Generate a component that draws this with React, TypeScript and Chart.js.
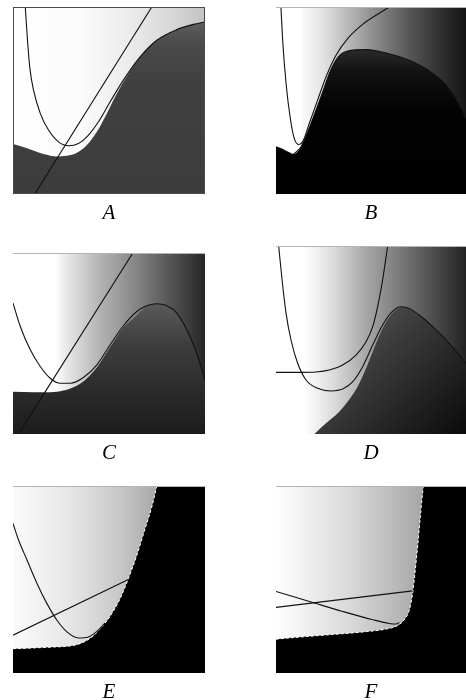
import React, { useEffect, useRef } from "react";
import { Chart, registerables } from "chart.js";

Chart.register(...registerables);

// ---------- Data (each panel in a 0..100 x 0..100 frame) ----------
const panelLabels = ["A", "B", "C", "D", "E", "F"];

// Panel A
const aCurveX = [6.4, 7.3, 8.7, 10.7, 14.2, 18.5, 23.7, 28.9, 34.1, 39.3, 44.5, 50.6, 57.5, 66.2, 74.9, 85.3, 93.9, 100];
const aCurveY = [100, 85.8, 68.0, 55.5, 43.1, 34.2, 27.9, 25.8, 27.0, 31.5, 38.6, 49.3, 60.9, 73.3, 82.2, 87.9, 90.7, 92.0];
const aLineX = [11.3, 72.3];
const aLineY = [0, 100];
const aDarkX = [0, 7.3, 15.9, 22.9, 28.1, 33.3, 38.5, 43.7, 48.9, 54.1, 59.3, 66.2, 74.9, 85.3, 93.9, 100];
const aDarkY = [26.7, 24.4, 21.4, 20.1, 20.5, 22.1, 26.2, 33.3, 43.1, 53.7, 63.0, 73.3, 82.2, 87.9, 90.7, 92.0];

// Panel B
const bCurveX = [2.6, 3.5, 5.3, 7.4, 9.6, 11.9, 14.4, 17.5, 21.9, 26.3, 31.6, 37.7, 45.6, 52.6, 59.6];
const bCurveY = [100, 82.2, 59.1, 41.3, 29.7, 26.5, 28.8, 37.7, 50.2, 62.6, 74.2, 83.1, 90.7, 95.6, 100];
const bHumpX = [9.3, 13.2, 16.7, 20.7, 24.6, 28.4, 32.5, 37.7, 47.4, 57.9, 70.2, 80.7, 89.5, 96.5, 100];
const bHumpY = [21.4, 25.3, 33.3, 43.9, 54.6, 65.3, 73.0, 76.5, 77.2, 75.4, 71.5, 65.8, 58.2, 47.5, 40.4];
const bDarkX = [0, 3.5, 6.7, 9.3, 13.2, 16.7, 20.7, 24.6, 28.4, 32.5, 37.7, 47.4, 57.9, 70.2, 80.7, 89.5, 96.5, 100];
const bDarkY = [25.6, 24.2, 22.4, 21.4, 25.3, 33.3, 43.9, 54.6, 65.3, 73.0, 76.5, 77.2, 75.4, 71.5, 65.8, 58.2, 47.5, 40.4];

// Panel C
const cCurveX = [0, 3.8, 9.0, 14.2, 19.4, 24.6, 29.8, 36.7, 43.7, 50.6, 57.5, 64.5, 69.7, 74.9, 80.1, 85.3, 90.5, 95.7, 100];
const cCurveY = [72.3, 59.4, 46.5, 37.3, 30.8, 28.0, 28.0, 31.2, 38.2, 49.3, 59.8, 67.7, 70.8, 72.0, 70.8, 66.8, 57.6, 44.6, 29.9];
const cLineX = [2.9, 62.4];
const cLineY = [0, 100];
const cDarkX = [0, 10.7, 19.4, 26.3, 31.5, 37.6, 43.7, 50.6, 57.5, 62.7, 69.7, 74.9, 80.1, 85.3, 90.5, 95.7, 100];
const cDarkY = [23.4, 23.1, 23.1, 24.0, 25.8, 29.9, 36.7, 48.0, 59.0, 64.0, 70.5, 71.8, 70.6, 66.6, 57.4, 44.4, 29.7];

// Panel D
const dCurveX = [1.4, 3.2, 5.3, 7.9, 11.4, 15.8, 21.9, 28.9, 35.1, 40.4, 45.6, 50.9, 56.1, 61.4, 65.8, 70.2, 75.4, 82.5, 91.2, 100];
const dCurveY = [100, 81.9, 64.2, 50.0, 37.6, 28.7, 24.3, 22.9, 23.9, 27.8, 35.8, 47.3, 58.0, 65.4, 67.7, 66.8, 63.3, 57.1, 48.2, 37.6];
const dFlatX = [0, 12.3, 21.1, 28.1, 35.1, 42.1, 47.4, 50.9, 53.5, 56.1, 58.8];
const dFlatY = [32.8, 32.8, 33.0, 34.0, 36.7, 42.0, 49.1, 57.1, 67.7, 81.9, 100];
const dDarkX = [20.2, 26.3, 33.3, 38.6, 43.0, 47.0, 50.9, 55.3, 59.6, 64.0, 66.7, 70.2, 75.4, 82.5, 91.2, 100];
const dDarkY = [0, 5.7, 11.9, 18.4, 25.2, 34.0, 43.8, 54.4, 62.1, 66.7, 67.4, 66.5, 63.1, 56.9, 48.0, 37.4];

// Panel E
const eEdgeX = [0, 10.7, 21.1, 29.8, 35.9, 41.1, 46.3, 51.5, 55.8, 60.1, 64.5, 68.8, 72.3, 74.9];
const eEdgeY = [13.0, 13.4, 13.9, 14.5, 16.1, 19.3, 24.6, 31.8, 39.8, 50.5, 63.0, 77.3, 88.9, 100];
const eCurveX = [0, 2.9, 7.3, 12.5, 17.7, 22.9, 28.1, 34.1, 39.3, 43.7, 48.0];
const eCurveY = [80.0, 71.1, 60.4, 47.9, 37.1, 28.2, 22.0, 18.75, 19.3, 22.3, 26.8];
const eLineX = [0, 60.1];
const eLineY = [20.2, 50.0];

// Panel F
const fEdgeX = [0, 12.3, 29.8, 47.4, 57.9, 64.0, 67.5, 70.2, 71.9, 73.3, 74.7, 76.1, 77.5];
const fEdgeY = [18.1, 19.2, 20.6, 22.1, 23.5, 25.4, 28.5, 33.8, 42.7, 55.2, 69.4, 85.4, 100];
const fCurveX = [0, 20.2, 35.1, 50.9, 59.6, 63.2, 64.9];
const fCurveY = [43.6, 37.4, 32.9, 28.5, 26.5, 26.2, 27.0];
const fLineX = [0, 71.9];
const fLineY = [35.1, 43.9];

// ---------- helpers ----------
const zip = (xs: number[], ys: number[]) => xs.map((x, i) => ({ x, y: ys[i] }));

type Stop = [number, string];

const curve = (xs: number[], ys: number[]) => ({
  data: zip(xs, ys),
  borderColor: "#111",
  borderWidth: 1.1,
  pointRadius: 0,
  fill: false,
  cubicInterpolationMode: "monotone",
  clip: 0,
});

const vGrad = (stops: Stop[], fallback: string) => (ctx: any) => {
  const ch = ctx.chart;
  const a = ch.chartArea;
  if (!a) return fallback;
  const g = ch.ctx.createLinearGradient(0, a.top, 0, a.bottom);
  stops.forEach(([p, c]) => g.addColorStop(p, c));
  return g;
};

const hGrad = (stops: Stop[], fallback: string) => (ctx: any) => {
  const ch = ctx.chart;
  const a = ch.chartArea;
  if (!a) return fallback;
  const g = ch.ctx.createLinearGradient(a.left, 0, a.right, 0);
  stops.forEach(([p, c]) => g.addColorStop(p, c));
  return g;
};

const dGrad = (stops: Stop[], fallback: string) => (ctx: any) => {
  const ch = ctx.chart;
  const a = ch.chartArea;
  if (!a) return fallback;
  const g = ch.ctx.createLinearGradient(a.left + a.width * 0.3, a.top + a.height * 0.3, a.right, a.bottom);
  stops.forEach(([p, c]) => g.addColorStop(p, c));
  return g;
};

const region = (xs: number[], ys: number[], fill: string, bg: any, dashed = false) => ({
  data: zip(xs, ys),
  borderColor: dashed ? "#ffffff" : "rgba(0,0,0,0)",
  borderWidth: dashed ? 1 : 0,
  borderDash: dashed ? [3, 2] : [],
  pointRadius: 0,
  fill,
  backgroundColor: bg,
  cubicInterpolationMode: "monotone",
  clip: 0,
});

type PanelDef = {
  label: string;
  left: number;
  top: number;
  w: number;
  h: number;
  bg: Stop[];
  frame: "full" | "top";
  datasets: any[];
};

const panels: PanelDef[] = [
  {
    label: panelLabels[0], left: 13, top: 7, w: 192, h: 187, frame: "full",
    bg: [[0, "#ffffff"], [0.35, "#fbfbfb"], [0.6, "#ececec"], [0.8, "#dadada"], [1, "#c2c2c2"]],
    datasets: [
      curve(aCurveX, aCurveY),
      curve(aLineX, aLineY),
      region(aDarkX, aDarkY, "start", vGrad([[0, "#6a6a6a"], [0.2, "#4a4a4a"], [0.4, "#404040"], [1, "#3c3c3c"]], "#404040")),
    ],
  },
  {
    label: panelLabels[1], left: 276, top: 7, w: 190, h: 187, frame: "top",
    bg: [[0, "#ffffff"], [0.12, "#ffffff"], [0.25, "#e2e2e2"], [0.4, "#b2b2b2"], [0.55, "#828282"], [0.7, "#575757"], [0.85, "#333333"], [1, "#151515"]],
    datasets: [
      curve(bCurveX, bCurveY),
      curve(bHumpX, bHumpY),
      region(bDarkX, bDarkY, "start", vGrad([[0, "#000"], [0.22, "#2c2c2c"], [0.35, "#111"], [0.55, "#030303"], [1, "#000"]], "#000")),
    ],
  },
  {
    label: panelLabels[2], left: 13, top: 253, w: 192, h: 181, frame: "top",
    bg: [[0, "#ffffff"], [0.22, "#ffffff"], [0.28, "#e8e8e8"], [0.45, "#b4b4b4"], [0.63, "#888888"], [0.8, "#5a5a5a"], [1, "#262626"]],
    datasets: [
      curve(cCurveX, cCurveY),
      curve(cLineX, cLineY),
      region(cDarkX, cDarkY, "start", vGrad([[0, "#333"], [0.28, "#5a5a5a"], [0.5, "#3e3e3e"], [0.75, "#2c2c2c"], [1, "#1c1c1c"]], "#333")),
    ],
  },
  {
    label: panelLabels[3], left: 276, top: 246, w: 190, h: 188, frame: "top",
    bg: [[0, "#ffffff"], [0.15, "#ffffff"], [0.3, "#dcdcdc"], [0.47, "#a8a8a8"], [0.65, "#7a7a7a"], [0.82, "#505050"], [1, "#222222"]],
    datasets: [
      curve(dCurveX, dCurveY),
      curve(dFlatX, dFlatY),
      region(dDarkX, dDarkY, "start", dGrad([[0, "#5c5c5c"], [0.4, "#3a3a3a"], [1, "#0a0a0a"]], "#333")),
    ],
  },
  {
    label: panelLabels[4], left: 13, top: 486, w: 192, h: 187, frame: "top",
    bg: [[0, "#000000"], [1, "#000000"]],
    datasets: [
      curve(eCurveX, eCurveY),
      curve(eLineX, eLineY),
      region(eEdgeX, eEdgeY, "end", hGrad([[0, "#fbfbfb"], [0.3, "#e6e6e6"], [0.55, "#c8c8c8"], [0.75, "#a8a8a8"], [1, "#a0a0a0"]], "#ddd"), true),
    ],
  },
  {
    label: panelLabels[5], left: 276, top: 486, w: 190, h: 187, frame: "top",
    bg: [[0, "#000000"], [1, "#000000"]],
    datasets: [
      curve(fCurveX, fCurveY),
      curve(fLineX, fLineY),
      region(fEdgeX, fEdgeY, "end", hGrad([[0, "#ffffff"], [0.4, "#d8d8d8"], [0.77, "#a6a6a6"], [1, "#a0a0a0"]], "#ddd"), true),
    ],
  },
];

const TITLE_PAD = 7;
const TITLE_LH = 24;

function Panel({ def }: { def: PanelDef }) {
  const ref = useRef<HTMLCanvasElement | null>(null);
  useEffect(() => {
    if (!ref.current) return;
    const bgPlugin = {
      id: "panelBg" + def.label,
      beforeDraw(chart: any) {
        const { ctx, chartArea: a } = chart;
        if (!a) return;
        const g = ctx.createLinearGradient(a.left, 0, a.right, 0);
        def.bg.forEach(([p, c]) => g.addColorStop(p, c));
        ctx.save();
        ctx.fillStyle = g;
        ctx.fillRect(a.left, a.top, a.right - a.left, a.bottom - a.top);
        ctx.restore();
      },
      afterDraw(chart: any) {
        const { ctx, chartArea: a } = chart;
        if (!a) return;
        ctx.save();
        ctx.lineWidth = 1;
        if (def.frame === "full") {
          ctx.strokeStyle = "#4a4a4a";
          ctx.strokeRect(a.left + 0.5, a.top + 0.5, a.right - a.left - 1, a.bottom - a.top - 1);
        } else {
          ctx.strokeStyle = "#b4b4b4";
          ctx.beginPath();
          ctx.moveTo(a.left, a.top + 0.5);
          ctx.lineTo(a.right, a.top + 0.5);
          ctx.stroke();
        }
        ctx.restore();
      },
    };
    const chart = new Chart(ref.current, {
      type: "line",
      data: { datasets: def.datasets },
      options: {
        responsive: false,
        animation: false,
        events: [],
        devicePixelRatio: 1,
        layout: { padding: 0, autoPadding: false },
        scales: {
          x: { type: "linear", min: 0, max: 100, display: false },
          y: { type: "linear", min: 0, max: 100, display: false },
        },
        plugins: {
          legend: { display: false },
          tooltip: { enabled: false },
          title: {
            display: true,
            text: def.label,
            position: "bottom",
            color: "#000",
            font: { family: '"Liberation Serif", "DejaVu Serif", serif', style: "italic", weight: "normal", size: 21, lineHeight: TITLE_LH + "px" },
            padding: { top: TITLE_PAD, bottom: 0 },
          },
        },
      } as any,
      plugins: [bgPlugin],
    });
    return () => chart.destroy();
  }, [def]);
  return (
    <div style={{ position: "absolute", left: def.left, top: def.top, width: def.w, height: def.h + TITLE_PAD + TITLE_LH }}>
      <canvas ref={ref} width={def.w} height={def.h + TITLE_PAD + TITLE_LH} style={{ display: "block" }} />
    </div>
  );
}

export default function App() {
  return (
    <div style={{ position: "absolute", left: 0, top: 0, width: 466, height: 700, background: "#fff", overflow: "hidden" }}>
      {panels.map((p) => (
        <Panel key={p.label} def={p} />
      ))}
    </div>
  );
}
